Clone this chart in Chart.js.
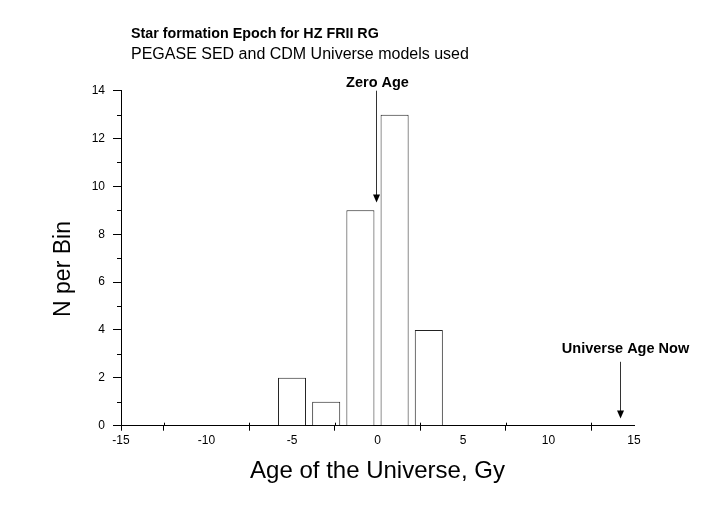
<!DOCTYPE html>
<html>
<head>
<meta charset="utf-8">
<script src="https://cdn.jsdelivr.net/npm/chart.js@4/dist/chart.umd.min.js"></script>
<style>
  html, body { margin: 0; padding: 0; background: #fff; }
  #wrap { width: 708px; height: 519px; }
</style>
</head>
<body>
<div id="wrap"><canvas id="chart"></canvas></div>
<script>
// histogram bins (centre of bin, Gy) and counts
const binCenters = [-5, -3, -1, 1, 3];
const binCounts = [2, 1, 9, 13, 4];

// axis labels / tick marks
const xLabelValues = [-15, -10, -5, 0, 5, 10, 15];
const xTickMarks = [-15, -12.5, -7.5, -2.5, 2.5, 7.5, 12.5];
const yLabelValues = [0, 2, 4, 6, 8, 10, 12, 14];
const yMinorTicks = [1, 3, 5, 7, 9, 11, 13];

const titleText = "Star formation Epoch for HZ FRII RG";
const subtitleText = "PEGASE SED and CDM Universe models used";
const xTitle = "Age of the Universe, Gy";
const yTitle = "N per Bin";

// arrow notes: label, x value, arrow start (y value), arrow tip (y value)
const noteLabels = ["Zero Age", "Universe Age Now"];
const noteX = [-0.1, 14.2];
const noteTop = [14, 2.67];
const noteTip = [9.33, 0.3];

const FONT = '"Liberation Sans", Arial, sans-serif';
Chart.defaults.font.family = FONT;
Chart.defaults.font.size = 12;
Chart.defaults.color = "#000";

const annotate = {
  id: "annotate",
  afterDraw(chart) {
    const { ctx, scales: { x, y } } = chart;
    ctx.save();
    ctx.strokeStyle = "#000";
    ctx.fillStyle = "#000";
    ctx.lineWidth = 1;

    // short minor ticks on the y axis
    yMinorTicks.forEach((v) => {
      const py = Math.round(y.getPixelForValue(v)) + 0.5;
      ctx.beginPath();
      ctx.moveTo(x.left - 4, py);
      ctx.lineTo(x.left, py);
      ctx.stroke();
    });
    // x ticks poke a little above the axis too
    xTickMarks.forEach((v) => {
      const px = Math.round(x.getPixelForValue(v)) + 0.5;
      ctx.beginPath();
      ctx.moveTo(px, y.bottom - 3);
      ctx.lineTo(px, y.bottom);
      ctx.stroke();
    });

    // titles
    ctx.textAlign = "left";
    ctx.textBaseline = "alphabetic";
    ctx.font = "bold 14.3px " + FONT;
    ctx.fillText(titleText, 131, 37.5);
    ctx.font = "16px " + FONT;
    ctx.fillText(subtitleText, 131, 59.3);

    // axis titles
    ctx.textAlign = "center";
    ctx.font = "24px " + FONT;
    ctx.fillText(xTitle, (x.left + x.right) / 2, 478);
    ctx.save();
    ctx.translate(63.5, 269);
    ctx.rotate(-Math.PI / 2);
    ctx.textBaseline = "middle";
    ctx.font = "23px " + FONT;
    ctx.fillText(yTitle, 0, 0);
    ctx.restore();

    // arrows with labels
    const textDx = [1, 5];
    const textGap = [4, 9];
    noteLabels.forEach((label, i) => {
      const px = Math.round(x.getPixelForValue(noteX[i])) + 0.5;
      const top = y.getPixelForValue(noteTop[i]);
      const tip = y.getPixelForValue(noteTip[i]);
      ctx.strokeStyle = "#333";
      ctx.beginPath();
      ctx.moveTo(px, top);
      ctx.lineTo(px, tip - 7);
      ctx.stroke();
      ctx.fillStyle = "#000";
      ctx.beginPath();
      ctx.moveTo(px - 3.5, tip - 8);
      ctx.lineTo(px + 3.5, tip - 8);
      ctx.lineTo(px, tip);
      ctx.closePath();
      ctx.fill();
      ctx.font = "bold 14.5px " + FONT;
      ctx.textAlign = "center";
      ctx.fillText(label, px + textDx[i], top - textGap[i]);
    });
    ctx.restore();
  }
};

new Chart(document.getElementById("chart"), {
  type: "bar",
  data: {
    datasets: [
      {
        data: binCenters.map((c, i) => ({ x: c, y: binCounts[i] })),
        backgroundColor: "#fff",
        borderColor: "#222",
        borderWidth: 1,
        borderSkipped: "bottom",
        categoryPercentage: 0.82,
        barPercentage: 1,
      },
    ],
  },
  options: {
    responsive: true,
    maintainAspectRatio: false,
    animation: false,
    layout: { padding: { top: 90.7, right: 74, left: 0, bottom: 0 } },
    plugins: {
      legend: { display: false },
      tooltip: { enabled: false },
    },
    scales: {
      x: {
        type: "linear",
        min: -15,
        max: 15,
        offset: false,
        afterFit: (s) => { s.height = 93.3; },
        ticks: {
          stepSize: 2.5,
          autoSkip: false,
          maxRotation: 0,
          padding: 3,
          font: { size: 12 },
          callback: (v) => (xLabelValues.includes(v) ? String(v) : ""),
        },
        grid: {
          offset: false,
          drawOnChartArea: false,
          tickLength: 5,
          tickColor: (c) => (c.tick && xTickMarks.includes(c.tick.value) ? "#000" : "rgba(0,0,0,0)"),
        },
        border: { color: "#000", width: 1 },
      },
      y: {
        min: 0,
        max: 14,
        afterFit: (s) => { s.width = 121; },
        ticks: {
          stepSize: 1,
          autoSkip: false,
          padding: 8,
          font: { size: 12 },
          callback: (v) => (yLabelValues.includes(v) ? String(v) : ""),
        },
        grid: {
          drawOnChartArea: false,
          tickLength: 8,
          tickColor: (c) => (c.tick && yLabelValues.includes(c.tick.value) ? "#000" : "rgba(0,0,0,0)"),
        },
        border: { color: "#000", width: 1 },
      },
    },
  },
  plugins: [annotate],
});
</script>
</body>
</html>
